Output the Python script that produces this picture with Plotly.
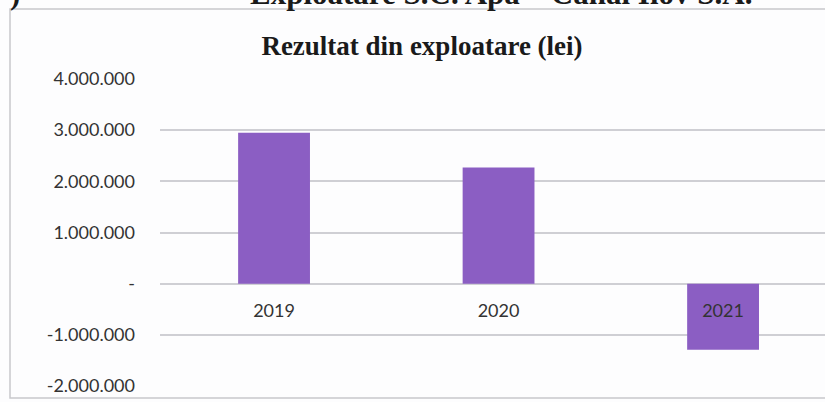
import plotly.graph_objects as go

categories = ["2019", "2020", "2021"]
values = [2950000, 2270000, -1290000]
tick_vals = [-2000000, -1000000, 0, 1000000, 2000000, 3000000, 4000000]
tick_text = ["-2.000.000", "-1.000.000", "-", "1.000.000", "2.000.000", "3.000.000", "4.000.000"]
title_text = "Rezultat din exploatare (lei)"
heading_text = "Exploatare S.C. Apa – Canal Ilov S.A."
label_y = [-560000, -560000, -560000]

L, R, T, B = 160, 0, 79, 16
ph = 402 - T - B
pw = 825 - L - R

fig = go.Figure()
fig.add_trace(go.Bar(x=categories, y=values, marker=dict(color="#8b5ec3", line=dict(width=0)),
                     showlegend=False, hoverinfo="skip"))
fig.add_trace(go.Scatter(x=categories, y=label_y, mode="text", text=categories,
                         textposition="middle center", showlegend=False, hoverinfo="skip",
                         cliponaxis=False,
                         textfont=dict(family="Lato, sans-serif", size=18, color="#333333")))

# cut-off document heading at top
fig.add_annotation(x=(248 - L) / pw, y=(402 - B - 13) / ph, xref="paper", yref="paper",
                   text="<b>" + heading_text + "</b>",
                   showarrow=False, xanchor="left", yanchor="bottom",
                   font=dict(family="Liberation Serif, serif", size=31, color="#1a1a1a"))
fig.add_annotation(x=(8 - L) / pw, y=(402 - B - 13) / ph, xref="paper", yref="paper",
                   text="<b>)</b>",
                   showarrow=False, xanchor="left", yanchor="bottom",
                   font=dict(family="Liberation Serif, serif", size=31, color="#1a1a1a"))

# chart frame
fig.add_shape(type="rect", xref="paper", yref="paper",
              x0=(10 - L) / pw, x1=(830 - L) / pw,
              y0=(402 - B - 398) / ph, y1=(402 - B - 9) / ph,
              line=dict(color="#c8c8cc", width=1.5), fillcolor="rgba(0,0,0,0)", layer="below")

fig.update_layout(
    width=825, height=402,
    margin=dict(l=L, r=R, t=T, b=B, autoexpand=False),
    paper_bgcolor="#fdfdfe", plot_bgcolor="rgba(0,0,0,0)",
    bargap=0.68,
    title=dict(text="<b>" + title_text + "</b>", x=422 / 825, xanchor="center",
               y=1 - 46 / 402, yanchor="middle",
               font=dict(family="Liberation Serif, serif", size=27, color="#1a1a1a")),
    xaxis=dict(type="category", range=[-0.508, 2.454], showticklabels=False, showgrid=False,
               zeroline=False, showline=False),
    yaxis=dict(range=[-2000000, 4000000], tickvals=tick_vals, ticktext=tick_text,
               showgrid=True, gridcolor="#cfcfd4", gridwidth=1.5, zeroline=False,
               ticklabelstandoff=24,
               tickfont=dict(family="Lato, sans-serif", size=18, color="#333333")),
)

fig.write_html("out.html", config={"displayModeBar": False},
               post_script="document.body.style.margin='0';")
